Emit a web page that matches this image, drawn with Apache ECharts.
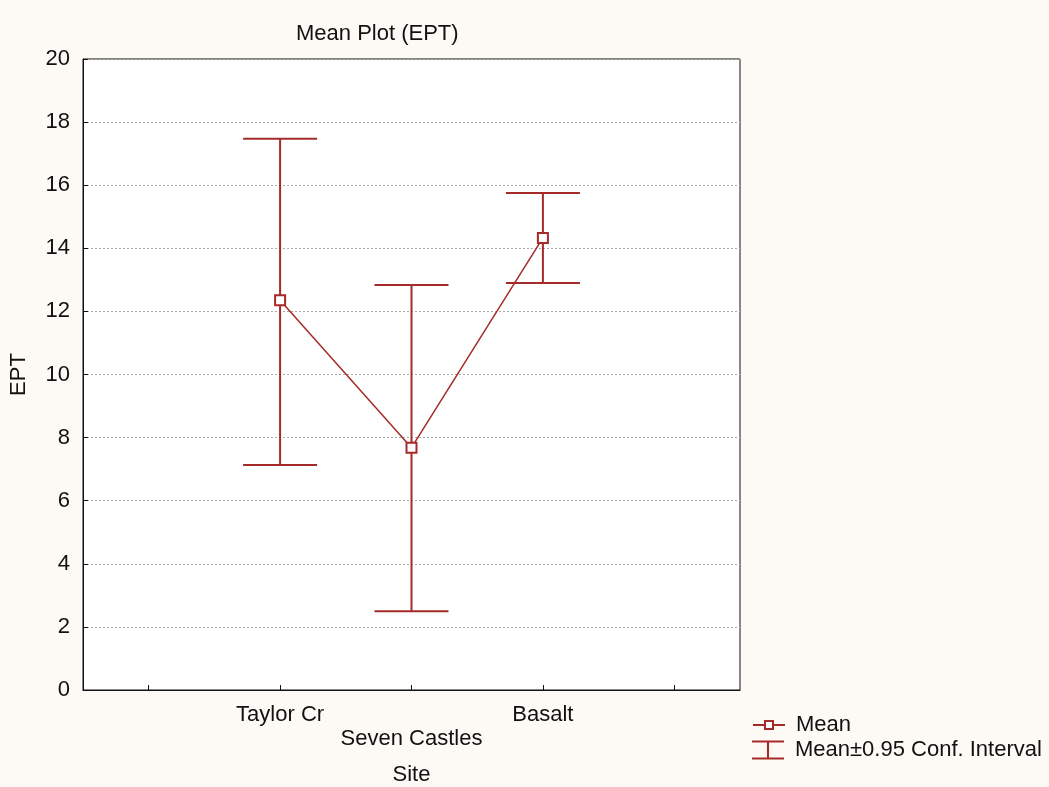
<!DOCTYPE html>
<html>
<head>
<meta charset="utf-8">
<script src="https://cdn.jsdelivr.net/npm/echarts@6/dist/echarts.min.js"></script>
<style>
  html, body { margin: 0; padding: 0; background: #fdfaf6; }
  #chart { width: 1049px; height: 787px; }
</style>
</head>
<body>
<div id="chart"></div>
<script>
// sites and values
const sites = ['Taylor Cr', 'Seven Castles', 'Basalt']
const means = [12.35, 7.68, 14.33]
const lower = [7.13, 2.5, 12.9]
const upper = [17.47, 12.84, 15.75]
const yTicks = [0, 2, 4, 6, 8, 10, 12, 14, 16, 18, 20]

const red = '#a52a2a'
const fs = 22
// empty slots on both ends, like the original axis
const cats = ['', ...sites, '']

let myChart = echarts.init(document.getElementById('chart'))
myChart.setOption({
  backgroundColor: '#fdfaf6',
  textStyle: { fontFamily: 'Liberation Sans, Arial, sans-serif' },
  title: {
    text: 'Mean Plot (EPT)',
    left: 291,
    top: 18,
    textStyle: { fontSize: fs, fontWeight: 'normal', color: '#111' }
  },
  grid: {
    left: 83,
    right: 309,
    top: 59,
    bottom: 97,
    outerBoundsMode: 'none',
    show: true,
    backgroundColor: '#fff',
    borderColor: '#111',
    borderWidth: 1
  },
  // two legends so each icon can have its own height
  legend: [
    {
      orient: 'vertical',
      left: 747,
      top: 709,
      itemWidth: 32,
      itemHeight: 10,
      textStyle: { fontSize: fs, color: '#111', padding: [0, 0, 0, 6] },
      data: [{ name: 'Mean' }]
    },
    {
      orient: 'vertical',
      left: 747,
      top: 734,
      itemWidth: 32,
      itemHeight: 20,
      textStyle: { fontSize: fs, color: '#111', padding: [0, 0, 0, 6] },
      data: [
        { name: 'Mean±0.95 Conf. Interval', icon: 'path://M0,0H20V1.3H0Z M9.35,1.3H10.65V10.7H9.35Z M0,10.7H20V12H0Z' }
      ]
    }
  ],
  xAxis: {
    type: 'category',
    data: cats,
    boundaryGap: true,
    name: 'Site',
    nameLocation: 'middle',
    nameGap: 74,
    nameTextStyle: { fontSize: fs, color: '#111' },
    axisLine: { lineStyle: { color: '#111' } },
    axisTick: { show: true, inside: true, alignWithLabel: true, interval: 0, length: 5, lineStyle: { color: '#111' } },
    axisLabel: {
      fontSize: fs,
      color: '#111',
      margin: 13,
      lineHeight: 24,
      interval: 0,
      // middle label sits one row lower
      formatter: function (v, i) { return i === 2 ? '\n' + v : v }
    },
    splitLine: { show: false }
  },
  yAxis: {
    type: 'value',
    min: yTicks[0],
    max: yTicks[yTicks.length - 1],
    interval: 2,
    name: 'EPT',
    nameLocation: 'middle',
    nameGap: 53,
    nameTextStyle: { fontSize: fs, color: '#111' },
    axisLine: { show: true, lineStyle: { color: '#111' } },
    axisTick: { show: true, inside: true, length: 5, lineStyle: { color: '#111' } },
    axisLabel: { fontSize: fs, color: '#111', margin: 13, padding: [4, 0, 0, 0] },
    splitLine: { show: true, lineStyle: { color: '#aaa', type: [2, 2], width: 1 } }
  },
  series: [
    {
      name: 'Mean±0.95 Conf. Interval',
      type: 'custom',
      itemStyle: { color: red },
      data: sites.map((s, i) => [i + 1, lower[i], upper[i]]),
      encode: { x: 0, y: [1, 2] },
      z: 2,
      renderItem: function (params, api) {
        const x = api.value(0)
        const lo = api.coord([x, api.value(1)])
        const hi = api.coord([x, api.value(2)])
        const half = 37
        const st = { stroke: red, lineWidth: 2, fill: null }
        return {
          type: 'group',
          children: [
            { type: 'line', shape: { x1: lo[0], y1: lo[1], x2: hi[0], y2: hi[1] }, style: st },
            { type: 'line', shape: { x1: hi[0] - half, y1: hi[1], x2: hi[0] + half, y2: hi[1] }, style: st },
            { type: 'line', shape: { x1: lo[0] - half, y1: lo[1], x2: lo[0] + half, y2: lo[1] }, style: st }
          ]
        }
      }
    },
    {
      name: 'Mean',
      type: 'line',
      data: sites.map((s, i) => [i + 1, means[i]]),
      symbol: 'rect',
      symbolSize: 10,
      showAllSymbol: true,
      z: 5,
      itemStyle: { color: '#fff', borderColor: red, borderWidth: 2 },
      lineStyle: { color: red, width: 1.5 },
      emphasis: { disabled: true }
    }
  ]
})
window.onresize = function () {
  myChart.resize()
}
</script>
</body>
</html>
